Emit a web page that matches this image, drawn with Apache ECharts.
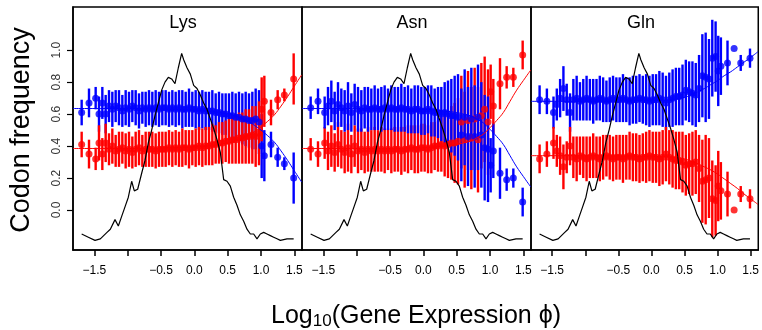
<!DOCTYPE html>
<html>
<head>
<meta charset="utf-8">
<script src="https://cdn.jsdelivr.net/npm/echarts@6.0.0/dist/echarts.min.js"></script>
<style>
html, body { margin: 0; padding: 0; background: #fff; }
#chart { width: 762px; height: 330px; }
</style>
</head>
<body>
<div id="chart"></div>
<script>
// bin centres (log10 expression), shared by the three panels
var XS = [-1.69, -1.58, -1.48,
  -1.43, -1.38, -1.33, -1.28, -1.23, -1.18, -1.13, -1.08, -1.03, -0.98,
  -0.93, -0.88, -0.83, -0.78, -0.73, -0.68, -0.63, -0.58, -0.53, -0.48,
  -0.43, -0.38, -0.33, -0.28, -0.23, -0.18, -0.13, -0.08, -0.03, 0.02,
  0.07, 0.12, 0.17, 0.22, 0.27, 0.32, 0.37, 0.42, 0.47, 0.52,
  0.57, 0.62, 0.67, 0.72, 0.77, 0.82, 0.87, 0.92, 0.97,
  1.01, 1.05, 1.15, 1.25, 1.35, 1.49];

var TITLES = ['Lys', 'Asn', 'Gln'];

var LYS_BLUE = [0.61, 0.67, 0.70,
  0.60, 0.67, 0.60, 0.65, 0.63, 0.65, 0.64, 0.62, 0.64, 0.63,
  0.65, 0.64, 0.62, 0.64, 0.63, 0.64, 0.63, 0.64, 0.63, 0.64,
  0.64, 0.63, 0.64, 0.63, 0.64, 0.63, 0.63, 0.64, 0.63, 0.63,
  0.62, 0.63, 0.62, 0.62, 0.62, 0.61, 0.61, 0.60, 0.60, 0.59,
  0.59, 0.58, 0.58, 0.57, 0.57, 0.56, 0.56, 0.57, 0.55,
  0.40, 0.34, 0.41, 0.33, 0.29, 0.20];
var LYS_RED = [0.41, 0.35, 0.32,
  0.42, 0.35, 0.42, 0.38, 0.40, 0.37, 0.38, 0.39, 0.37, 0.38,
  0.36, 0.38, 0.39, 0.37, 0.38, 0.38, 0.38, 0.37, 0.38, 0.38,
  0.38, 0.39, 0.38, 0.39, 0.38, 0.39, 0.39, 0.38, 0.39, 0.39,
  0.40, 0.39, 0.40, 0.40, 0.41, 0.41, 0.42, 0.42, 0.43, 0.43,
  0.44, 0.44, 0.45, 0.45, 0.46, 0.46, 0.47, 0.46, 0.48,
  0.63, 0.68, 0.61, 0.69, 0.72, 0.82];
var LYS_ERR = [0.08, 0.09, 0.07,
  0.11, 0.10, 0.12, 0.10, 0.11, 0.10, 0.11, 0.10, 0.11, 0.11,
  0.10, 0.11, 0.11, 0.10, 0.11, 0.11, 0.11, 0.11, 0.11, 0.11,
  0.11, 0.11, 0.11, 0.11, 0.11, 0.12, 0.11, 0.12, 0.11, 0.12,
  0.12, 0.12, 0.12, 0.12, 0.13, 0.12, 0.13, 0.13, 0.13, 0.14,
  0.15, 0.15, 0.16, 0.16, 0.17, 0.17, 0.18, 0.19, 0.20,
  0.20, 0.16, 0.08, 0.06, 0.04, 0.16];

var ASN_BLUE = [0.64, 0.68, 0.61,
  0.65, 0.68, 0.62, 0.66, 0.64, 0.62, 0.65, 0.61, 0.66, 0.63,
  0.62, 0.64, 0.63, 0.63, 0.64, 0.63, 0.63, 0.64, 0.63, 0.64,
  0.63, 0.63, 0.64, 0.63, 0.63, 0.62, 0.63, 0.63, 0.62, 0.62,
  0.63, 0.62, 0.61, 0.61, 0.60, 0.61, 0.60, 0.59, 0.59, 0.58,
  0.47, 0.58, 0.46, 0.57, 0.46, 0.58, 0.47, 0.39, 0.38,
  0.28, 0.37, 0.23, 0.19, 0.20, 0.05];
var ASN_RED = [0.38, 0.35, 0.42,
  0.37, 0.40, 0.36, 0.41, 0.38, 0.36, 0.39, 0.35, 0.40, 0.37,
  0.38, 0.36, 0.38, 0.37, 0.38, 0.37, 0.38, 0.37, 0.38, 0.37,
  0.38, 0.38, 0.37, 0.38, 0.38, 0.39, 0.38, 0.38, 0.39, 0.39,
  0.38, 0.39, 0.40, 0.40, 0.41, 0.40, 0.41, 0.42, 0.42, 0.43,
  0.55, 0.44, 0.56, 0.45, 0.57, 0.44, 0.59, 0.63, 0.55,
  0.74, 0.65, 0.79, 0.83, 0.83, 0.97];
var ASN_ERR = [0.07, 0.08, 0.10,
  0.12, 0.13, 0.12, 0.14, 0.12, 0.13, 0.15, 0.12, 0.13, 0.14,
  0.13, 0.13, 0.14, 0.13, 0.14, 0.13, 0.14, 0.14, 0.13, 0.14,
  0.14, 0.14, 0.15, 0.14, 0.15, 0.14, 0.15, 0.15, 0.15, 0.15,
  0.15, 0.16, 0.15, 0.16, 0.17, 0.19, 0.21, 0.23, 0.25, 0.27,
  0.29, 0.30, 0.31, 0.32, 0.32, 0.33, 0.33, 0.33, 0.33,
  0.17, 0.17, 0.16, 0.07, 0.06, 0.09];

var GLN_BLUE = [0.69, 0.68, 0.61,
  0.66, 0.70, 0.76, 0.69, 0.61, 0.69, 0.70, 0.68, 0.69, 0.70,
  0.69, 0.68, 0.69, 0.70, 0.69, 0.68, 0.69, 0.70, 0.69, 0.69,
  0.70, 0.69, 0.68, 0.69, 0.69, 0.70, 0.69, 0.69, 0.68, 0.69,
  0.69, 0.70, 0.69, 0.67, 0.69, 0.70, 0.71, 0.71, 0.72, 0.75,
  0.74, 0.73, 0.72, 0.76, 0.84, 0.83, 0.82, 0.95, 0.96,
  0.87, 0.90, 0.92, 1.01, 0.92, 0.95];
var GLN_RED = [0.32, 0.35, 0.42,
  0.37, 0.34, 0.27, 0.33, 0.40, 0.33, 0.32, 0.34, 0.33, 0.32,
  0.33, 0.34, 0.33, 0.32, 0.33, 0.34, 0.33, 0.32, 0.33, 0.33,
  0.32, 0.33, 0.34, 0.33, 0.33, 0.32, 0.33, 0.33, 0.34, 0.33,
  0.33, 0.32, 0.33, 0.35, 0.33, 0.32, 0.31, 0.31, 0.30, 0.28,
  0.29, 0.29, 0.30, 0.26, 0.18, 0.19, 0.20, 0.07, 0.06,
  0.15, 0.12, 0.10, 0.00, 0.10, 0.07];
var GLN_ERR = [0.09, 0.08, 0.10,
  0.10, 0.12, 0.14, 0.10, 0.12, 0.13, 0.14, 0.12, 0.13, 0.14,
  0.13, 0.14, 0.13, 0.14, 0.14, 0.13, 0.14, 0.14, 0.14, 0.14,
  0.15, 0.14, 0.15, 0.15, 0.15, 0.15, 0.15, 0.16, 0.16, 0.16,
  0.16, 0.17, 0.17, 0.17, 0.17, 0.18, 0.18, 0.18, 0.19, 0.19,
  0.19, 0.20, 0.20, 0.21, 0.26, 0.28, 0.25, 0.24, 0.22,
  0.22, 0.18, 0.14, 0.00, 0.05, 0.06];

var CX = [-1.82, -1.0, 0.0, 0.3, 0.5, 0.6, 0.7, 0.8, 0.9, 1.0, 1.1, 1.2, 1.3, 1.4, 1.5, 1.61];
var LYS_FIT_B = [0.635, 0.635, 0.625, 0.615, 0.60, 0.59, 0.575, 0.555, 0.53, 0.50, 0.465, 0.425, 0.37, 0.31, 0.245, 0.175];
var LYS_FIT_R = [0.385, 0.385, 0.395, 0.405, 0.42, 0.43, 0.445, 0.465, 0.49, 0.52, 0.555, 0.595, 0.65, 0.71, 0.775, 0.845];
var ASN_FIT_B = [0.635, 0.635, 0.63, 0.62, 0.61, 0.60, 0.59, 0.57, 0.545, 0.505, 0.46, 0.41, 0.34, 0.27, 0.21, 0.145];
var ASN_FIT_R = [0.385, 0.385, 0.39, 0.40, 0.41, 0.42, 0.43, 0.45, 0.475, 0.515, 0.56, 0.61, 0.68, 0.75, 0.81, 0.875];
var GLN_FIT_B = [0.68, 0.68, 0.685, 0.69, 0.705, 0.72, 0.74, 0.76, 0.785, 0.81, 0.84, 0.865, 0.895, 0.925, 0.955, 0.99];
var GLN_FIT_R = [0.34, 0.34, 0.335, 0.33, 0.32, 0.305, 0.29, 0.27, 0.25, 0.225, 0.195, 0.165, 0.135, 0.10, 0.07, 0.035];

// scaled density of gene expression (black line), same in every panel
var DX = [-1.69, -1.59, -1.49, -1.41, -1.36, -1.31, -1.26, -1.19, -1.14, -1.09,
  -1.04, -0.99, -0.94, -0.90, -0.85, -0.79, -0.74, -0.69, -0.64, -0.59,
  -0.54, -0.49, -0.44, -0.39, -0.34, -0.29, -0.24, -0.19, -0.16, -0.11,
  -0.06, -0.01, 0.04, 0.09, 0.14, 0.19, 0.24, 0.29, 0.34, 0.39,
  0.44, 0.49, 0.54, 0.59, 0.64, 0.69, 0.74, 0.79, 0.84, 0.89,
  0.94, 0.99, 1.04, 1.09, 1.14, 1.19, 1.24, 1.29, 1.39, 1.49];
var DY = [-0.15, -0.17, -0.19, -0.18, -0.16, -0.14, -0.12, -0.06, -0.10, -0.04,
  0.02, 0.08, 0.18, 0.12, 0.13, 0.23, 0.31, 0.42, 0.50, 0.59,
  0.67, 0.75, 0.80, 0.83, 0.82, 0.79, 0.89, 0.98, 0.94, 0.89,
  0.85, 0.78, 0.76, 0.72, 0.67, 0.63, 0.57, 0.51, 0.44, 0.36,
  0.19, 0.18, 0.15, 0.08, 0.03, -0.03, -0.07, -0.12, -0.15, -0.15,
  -0.18, -0.15, -0.14, -0.15, -0.16, -0.17, -0.18, -0.19, -0.18, -0.18];

var X_TICKS = [-1.5, -1.0, -0.5, 0.0, 0.5, 1.0, 1.5];
var X_LABELS = [-1.5, -0.5, 0.0, 0.5, 1.0, 1.5];
var Y_TICKS = [0.0, 0.2, 0.4, 0.6, 0.8, 1.0];

// redOnTop: which codon's bars were drawn last in each panel
var PANELS = [
  { blue: LYS_BLUE, red: LYS_RED, err: LYS_ERR, fitB: LYS_FIT_B, fitR: LYS_FIT_R, redOnTop: true },
  { blue: ASN_BLUE, red: ASN_RED, err: ASN_ERR, fitB: ASN_FIT_B, fitR: ASN_FIT_R, redOnTop: false },
  { blue: GLN_BLUE, red: GLN_RED, err: GLN_ERR, fitB: GLN_FIT_B, fitR: GLN_FIT_R, redOnTop: true }
];

var FONT = 'Liberation Sans, Arial, Helvetica, sans-serif';
var BLUE = '#0000ff', RED = '#ff0000';
var gridLeft = [73, 302, 531];
var gridWidth = [229, 229, 228];

function fmt(v) {
  var s = Math.abs(v).toFixed(1);
  return v < 0 ? '\u2212' + s : s;
}

var grids = [], xAxes = [], yAxes = [], series = [];

function errBars(i, means, errs, color) {
  return {
    type: 'custom', xAxisIndex: i, yAxisIndex: i, silent: true,
    data: XS.map(function (x, k) { return [x, means[k] - errs[k], means[k] + errs[k]]; }),
    renderItem: function (params, api) {
      var a = api.coord([api.value(0), api.value(1)]);
      var b = api.coord([api.value(0), api.value(2)]);
      return { type: 'line', shape: { x1: a[0], y1: a[1], x2: b[0], y2: b[1] },
        style: { stroke: color, lineWidth: 2.4 } };
    }
  };
}
function dots(i, means, color) {
  return {
    type: 'scatter', xAxisIndex: i, yAxisIndex: i, silent: true,
    symbol: 'circle', symbolSize: 7, itemStyle: { color: color },
    data: XS.map(function (x, k) { return [x, means[k]]; })
  };
}
function curve(i, xs, ys, color, w, smooth) {
  return {
    type: 'line', xAxisIndex: i, yAxisIndex: i, silent: true,
    showSymbol: false, smooth: smooth, lineStyle: { color: color, width: w },
    data: xs.map(function (x, k) { return [x, ys[k]]; })
  };
}

PANELS.forEach(function (p, i) {
  grids.push({ left: gridLeft[i], top: 7, width: gridWidth[i], height: 243,
    show: true, borderColor: '#000', borderWidth: 1.5, backgroundColor: 'transparent' });
  xAxes.push({
    type: 'value', gridIndex: i, min: -1.82, max: 1.615,
    splitLine: { show: false },
    axisLine: { show: true, onZero: false, lineStyle: { color: '#000', width: 1.5 } },
    axisTick: { show: true, length: 6, customValues: X_TICKS, lineStyle: { color: '#000', width: 1.5 } },
    axisLabel: { customValues: X_LABELS, formatter: fmt, margin: 15,
      fontFamily: FONT, fontSize: 12, color: '#000' }
  });
  yAxes.push({
    type: 'value', gridIndex: i, min: -0.25, max: 1.27,
    splitLine: { show: false },
    axisLine: { show: i === 0, onZero: false, lineStyle: { color: '#000', width: 1.5 } },
    axisTick: { show: i === 0, length: 6, customValues: Y_TICKS, lineStyle: { color: '#000', width: 1.2 } },
    axisLabel: { show: i === 0, customValues: Y_TICKS, formatter: function (v) { return v.toFixed(1); },
      rotate: 90, margin: 10, fontFamily: FONT, fontSize: 12, color: '#333' }
  });
  var b = [errBars(i, p.blue, p.err, BLUE), dots(i, p.blue, BLUE)];
  var r = [errBars(i, p.red, p.err, RED), dots(i, p.red, RED)];
  series = series.concat(p.redOnTop ? b.concat(r) : r.concat(b));
  series.push(curve(i, CX, p.fitB, BLUE, 1, 0.4));
  series.push(curve(i, CX, p.fitR, RED, 1, 0.4));
  series.push(curve(i, DX, DY, '#000', 1.2, false));
});

var graphics = [];
var titleX = [183, 412, 641];
TITLES.forEach(function (t, i) {
  graphics.push({ type: 'text', x: titleX[i], y: 23,
    style: { text: t, fontFamily: FONT, fontSize: 18, fill: '#000', align: 'center', verticalAlign: 'middle' } });
});
graphics.push({ type: 'text', x: 22, y: 130, rotation: Math.PI / 2,
  style: { text: 'Codon frequency', fontFamily: FONT, fontSize: 27, fill: '#000', align: 'center', verticalAlign: 'middle' } });
graphics.push({ type: 'text', x: 416, y: 316,
  style: { text: '{a|Log}{s|10}{a|(Gene Expression \u03d5)}', align: 'center', verticalAlign: 'middle',
    rich: {
      a: { fontFamily: FONT, fontSize: 25, fill: '#000' },
      s: { fontFamily: FONT, fontSize: 17, fill: '#000', padding: [10, 0, 0, 0] }
    } } });

var chart = echarts.init(document.getElementById('chart'), null, { renderer: 'canvas' });
chart.setOption({
  animation: false,
  backgroundColor: '#fff',
  grid: grids,
  xAxis: xAxes,
  yAxis: yAxes,
  series: series,
  graphic: graphics
});
</script>
</body>
</html>
